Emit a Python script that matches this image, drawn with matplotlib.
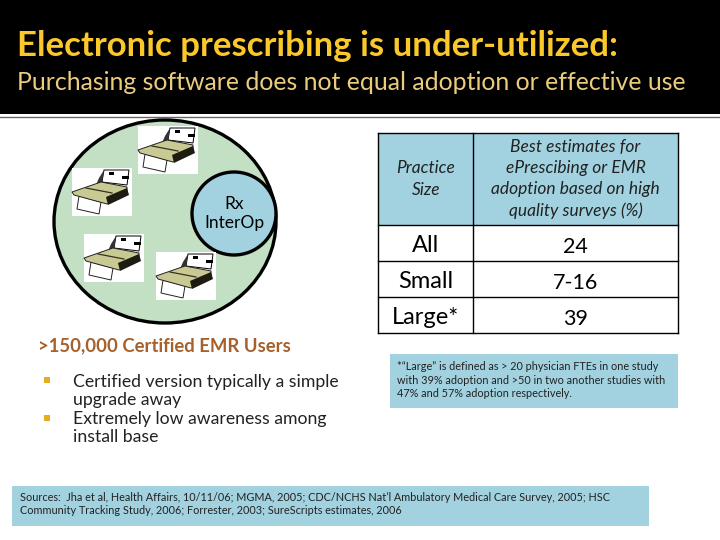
import matplotlib
matplotlib.use("Agg")
import matplotlib.pyplot as plt
from matplotlib.patches import Rectangle, Ellipse, Polygon

plt.rcParams['font.family'] = ['Lato', 'DejaVu Sans']

title = "Electronic prescribing is under-utilized:"
subtitle = "Purchasing software does not equal adoption or effective use"
col_headers = ["Practice\nSize", "Best estimates for\nePrescibing or EMR\nadoption based on high\nquality surveys (%)"]
practice_sizes = ["All", "Small", "Large*"]
adoption = ["24", "7-16", "39"]
note = "*\u201cLarge\u201d is defined as > 20 physician FTEs in one study\nwith 39% adoption and >50 in two another studies with\n47% and 57% adoption respectively."
sources = "Sources:  Jha et al, Health Affairs, 10/11/06; MGMA, 2005; CDC/NCHS Nat\u2019l Ambulatory Medical Care Survey, 2005; HSC\nCommunity Tracking Study, 2006; Forrester, 2003; SureScripts estimates, 2006"
circle_label = "Rx\nInterOp"
users_heading = ">150,000 Certified EMR Users"
bullets = ["Certified version typically a simple\nupgrade away", "Extremely low awareness among\ninstall base"]
printer_corners = [(138, 126), (72, 168), (84, 234), (156, 252)]

BLUE = "#a2d2e0"
GREEN = "#c3e0c4"

fig = plt.figure(figsize=(7.2, 5.4), dpi=100, facecolor="white")
ax = fig.add_axes([0, 0, 1, 1])
ax.set_xlim(0, 720)
ax.set_ylim(540, 0)
ax.axis("off")

# header
ax.add_patch(Rectangle((0, 0), 720, 113.5, fc="black", ec="none"))
ax.plot([0, 720], [117, 117], color="#666666", lw=1)
ax.text(17, 45.5, title, color="#fbc82c", fontsize=25, fontweight="bold", va="center", ha="left")
ax.text(17, 82.5, subtitle, color="#ebcb7c", fontsize=17.9, va="center", ha="left")

# circles
ax.add_patch(Ellipse((165, 221.5), 222, 203, fc=GREEN, ec="black", lw=2.4, zorder=2))
ax.add_patch(Ellipse((234, 213.5), 84, 83, fc=BLUE, ec="black", lw=2.4, zorder=3))
ax.text(234, 213.5, circle_label, fontsize=12.5, ha="center", va="center", color="black",
        linespacing=1.25, zorder=4)


def printer(x0, y0):
    z = 5
    pt = lambda pts: [(x0 + a, y0 + b) for a, b in pts]
    ax.add_patch(Rectangle((x0, y0), 60, 48, fc="white", ec="none", zorder=z))
    ax.add_patch(Polygon(pt([(32, 2), (57, 2), (55, 17), (30, 14)]), fc="white", ec="black", lw=0.7, zorder=z + 1))
    ax.add_patch(Polygon(pt([(32, 2), (30, 14), (24, 17), (27, 10)]), fc="#333333", ec="none", zorder=z + 1))
    ax.add_patch(Rectangle((x0 + 37, y0 + 3.5), 5, 3.5, fc="black", ec="none", zorder=z + 2))
    ax.add_patch(Rectangle((x0 + 50, y0 + 7.5), 7, 3, fc="black", ec="none", zorder=z + 2))
    ax.add_patch(Polygon(pt([(7, 28), (29, 34), (27, 46), (5, 41)]), fc="white", ec="#222222", lw=0.7, zorder=z))
    ax.add_patch(Polygon(pt([(0, 24), (29, 14), (55, 19), (55, 26), (35, 36), (2, 27)]), fc="#c9c994", ec="#222222", lw=0.7, zorder=z + 1))
    ax.add_patch(Polygon(pt([(34, 29), (55, 20), (57, 27), (36, 37)]), fc="#1c1c10", ec="none", zorder=z + 2))
    ax.plot([x0 + 14, x0 + 40], [y0 + 20, y0 + 25], color="#333320", lw=0.9, zorder=z + 3)


for cx, cy in printer_corners:
    printer(cx, cy)

# table
tx = [378, 473, 678]
ty = [132.5, 225, 261, 297, 333]
ax.add_patch(Rectangle((tx[0], ty[0]), tx[2] - tx[0], ty[1] - ty[0], fc=BLUE, ec="none"))
for y in ty:
    ax.plot([tx[0], tx[2]], [y, y], color="black", lw=1)
for x in tx:
    ax.plot([x, x], [ty[0], ty[-1]], color="black", lw=1)
ax.text(426, 179, col_headers[0], fontsize=12.5, style="italic", ha="center", va="center", linespacing=1.4, color="#222222")
ax.text(575.5, 179, col_headers[1], fontsize=12.5, style="italic", ha="center", va="center", linespacing=1.4, color="#222222")
for i, (s, v) in enumerate(zip(practice_sizes, adoption)):
    yc = (ty[i + 1] + ty[i + 2]) / 2
    ax.text(426, yc + 2, s, fontsize=17, ha="center", va="center", color="black")
    ax.text(575.5, yc + 4, v, fontsize=15.5, ha="center", va="center", color="black")

# note
ax.add_patch(Rectangle((390, 354), 288, 54, fc=BLUE, ec="none"))
ax.text(397, 380, note, fontsize=7.8, ha="left", va="center", linespacing=1.3, color="#222222")

# left text
ax.text(38, 345.5, users_heading, fontsize=13.3, fontweight="bold", color="#a5602c", ha="left", va="center")
ax.add_patch(Rectangle((44, 377), 6, 6, fc="#e3ae24", ec="none"))
ax.add_patch(Rectangle((44, 415), 6, 6, fc="#e3ae24", ec="none"))
ax.text(73, 391, bullets[0], fontsize=12.7, ha="left", va="center", linespacing=1.08, color="#222222")
ax.text(73, 428, bullets[1], fontsize=12.7, ha="left", va="center", linespacing=1.08, color="#222222")

# sources
ax.add_patch(Rectangle((12, 486), 637, 40, fc=BLUE, ec="none"))
ax.text(20, 504, sources, fontsize=7.8, ha="left", va="center", linespacing=1.3, color="#222222")

fig.savefig("out.png", dpi=100)
